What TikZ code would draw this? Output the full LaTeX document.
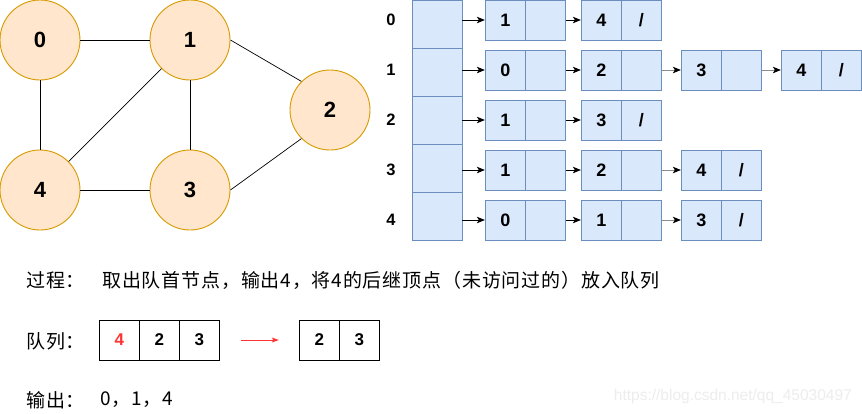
\documentclass[tikz,border=0pt]{standalone}
\usepackage{fontspec}
\setmainfont{Liberation Sans}
\newfontfamily\cjk[LetterSpace=4.4]{Noto Sans CJK SC}
\usetikzlibrary{arrows.meta}
\definecolor{peachfill}{HTML}{FFE6CC}
\definecolor{peachline}{HTML}{D79B00}
\definecolor{bluefill}{HTML}{DAE8FC}
\definecolor{blueline}{HTML}{6C8EBF}
\definecolor{qred}{HTML}{FF3333}
\definecolor{wmgray}{HTML}{EDEDED}
\tikzset{
  vert/.style={circle, minimum size=80pt, inner sep=0pt, fill=peachfill, draw=peachline, line width=0.9pt, font=\fontsize{22}{22}\selectfont\bfseries},
  hcell/.style={rectangle, minimum width=50pt, minimum height=48pt, inner sep=0pt, fill=bluefill, draw=blueline, line width=0.9pt},
  lcell/.style={rectangle, minimum width=40pt, minimum height=40pt, inner sep=0pt, fill=bluefill, draw=blueline, line width=0.9pt, font=\fontsize{18}{18}\selectfont\bfseries},
  rowlab/.style={font=\fontsize{16.5}{16.5}\selectfont\bfseries, inner sep=0pt},
  qcell/.style={rectangle, minimum width=40pt, minimum height=40pt, inner sep=0pt, fill=white, draw=black, line width=0.9pt, font=\fontsize{17}{17}\selectfont\bfseries},
  gedge/.style={draw=black, line width=0.7pt},
  larrow/.style={line width=0.9pt, -{Stealth[length=8pt, width=6.5pt, inset=2pt, color=black]}},
  blk/.style={draw=black},
  gry/.style={draw=gray!90},
  cjktext/.style={font=\cjk\fontsize{19}{19}\selectfont, inner sep=0pt, anchor=west},
}
\newcommand{\lnode}[4]{% row, pos, x, value
  \node[lcell] (a#1#2) at (#3,20+50*#1) {#4};
  \node[lcell] (b#1#2) at (#3+40,20+50*#1) {};
}
\newcommand{\lnodeend}[4]{%
  \node[lcell] (a#1#2) at (#3,20+50*#1) {#4};
  \node[lcell] (b#1#2) at (#3+40,20+50*#1) {/};
}
\begin{document}
\begin{tikzpicture}[x=1pt, y=-1pt]
\useasboundingbox (0,0) rectangle (862,413);
\fill[white] (0,0) rectangle (862,413);
% graph
\node[vert] (v0) at (40,40) {0};
\node[vert] (v1) at (190,40) {1};
\node[vert] (v2) at (330,110) {2};
\node[vert] (v4) at (40,190) {4};
\node[vert] (v3) at (190,190) {3};
\draw[gedge] (v0) -- (v1);
\draw[gedge] (v0) -- (v4);
\draw[gedge] (v1) -- (v4);
\draw[gedge] (v1) -- (v3);
\draw[gedge] (v4) -- (v3);
\draw[gedge] (v1.east) -- (v2.north west);
\draw[gedge] (v2.south west) -- (v3.east);
% header array
\foreach \i in {0,...,4} {
  \node[hcell] (h\i) at (437, 24+48*\i) {};
  \node[rowlab] (lab\i) at (391, 20+50*\i) {\i};
}
% row 0
\lnode{0}{1}{505.3}{1}
\lnodeend{0}{2}{601.3}{4}
% row 1
\lnode{1}{1}{505.3}{0}
\lnode{1}{2}{601.3}{2}
\lnode{1}{3}{701.3}{3}
\lnodeend{1}{4}{801.3}{4}
% row 2
\lnode{2}{1}{505.3}{1}
\lnodeend{2}{2}{601.3}{3}
% row 3
\lnode{3}{1}{505.3}{1}
\lnode{3}{2}{601.3}{2}
\lnodeend{3}{3}{701.3}{4}
% row 4
\lnode{4}{1}{505.3}{0}
\lnode{4}{2}{601.3}{1}
\lnodeend{4}{3}{701.3}{3}
% arrows header -> first
\foreach \i in {0,...,4} {
  \draw[larrow, blk] (h\i.east |- a\i1.west) -- (a\i1.west);
}
\draw[larrow, blk] (b01.east) -- (a02.west);
\draw[larrow, blk] (b11.east) -- (a12.west);
\draw[larrow, gry] (b12.east) -- (a13.west);
\draw[larrow, gry] (b13.east) -- (a14.west);
\draw[larrow, blk] (b21.east) -- (a22.west);
\draw[larrow, blk] (b31.east) -- (a32.west);
\draw[larrow, gry] (b32.east) -- (a33.west);
\draw[larrow, blk] (b41.east) -- (a42.west);
\draw[larrow, gry] (b42.east) -- (a43.west);
% bottom text
\node[cjktext] (t1) at (26,280) {过程：};
\node[cjktext] (t2) at (102,280) {取出队首节点，输出4，将4的后继顶点（未访问过的）放入队列};
\node[cjktext] (t3) at (26,341) {队列：};
\node[qcell, text=qred] (q1) at (119.3,340) {4};
\node[qcell] (q2) at (159.3,340) {2};
\node[qcell] (q3) at (199.3,340) {3};
\node[qcell] (p1) at (319.3,340) {2};
\node[qcell] (p2) at (359.3,340) {3};
\draw[draw=qred, line width=0.9pt, shorten <=21.4pt, shorten >=20pt, -{Stealth[length=7pt, width=5pt, inset=1.5pt, color=qred]}] (q3.east) -- (p1.west);
\node[cjktext] (t4) at (26,400) {输出：};
\node[cjktext] (t5) at (100,400) {0，1，4};
\node[font=\fontsize{15.5}{15.5}\selectfont, text=wmgray, inner sep=0pt, anchor=east] (wm) at (852,396) {https://blog.csdn.net/qq\_45030497};
\end{tikzpicture}
\end{document}
